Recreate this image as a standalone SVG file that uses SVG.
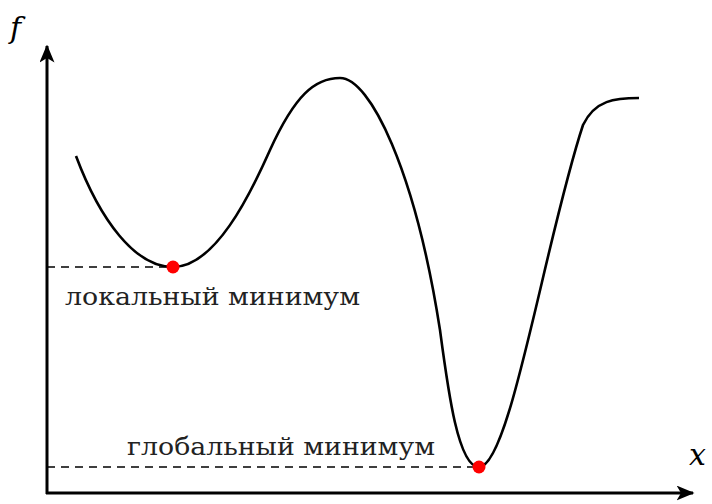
<svg xmlns="http://www.w3.org/2000/svg" width="712" height="504" viewBox="0 0 712 504">
<style>
.ax{stroke:#000;stroke-width:3;fill:none}
.dash{stroke:#000;stroke-width:1.3;stroke-dasharray:8 6;fill:none}
.curve{stroke:#000;stroke-width:2.6;fill:none}
.lbl{font-family:"DejaVu Serif",serif;font-size:25px;fill:#222}
.var{font-family:"DejaVu Serif",serif;font-size:30px;font-style:italic;fill:#000}
.pt{fill:#ff0000}
</style>
<defs>
<marker id="arr" viewBox="0 0 12 10" refX="11" refY="5" markerWidth="6" markerHeight="5" orient="auto" markerUnits="strokeWidth">
<path d="M0,0 L12,5 L0,10 L3,5 Z" fill="#000"/>
</marker>
</defs>
<rect width="712" height="504" fill="#fff"/>
<g id="connectors">
<path class="ax" d="M47,494 L47,46" marker-end="url(#arr)"/>
<path class="ax" d="M46,493 L693,493" marker-end="url(#arr)"/>
<path class="dash" d="M47,267 L173,267"/>
<path class="dash" d="M47,467 L479,467"/>
<path id="curve" class="curve" d="M76,156 C100,220 135,267 173,267 C215,267 250,195 270,150 C295,95 315,78 340,78 C370,78 415,170 440,330 C448,390 458,467 479,467 C510,467 545,240 583,125 C595,100 615,98 639,98"/>
</g>
<g id="local-min">
<circle class="pt" cx="173" cy="267" r="6.5"/>
<text class="lbl" x="65" y="305" textLength="295" lengthAdjust="spacingAndGlyphs">локальный минимум</text>
</g>
<g id="global-min">
<circle class="pt" cx="479" cy="467" r="6.5"/>
<text class="lbl" x="127" y="455" textLength="308" lengthAdjust="spacingAndGlyphs">глобальный минимум</text>
</g>
<g id="axis-f"><text class="var" x="10" y="38">f</text></g>
<g id="axis-x"><text class="var" x="689" y="465">x</text></g>
</svg>
